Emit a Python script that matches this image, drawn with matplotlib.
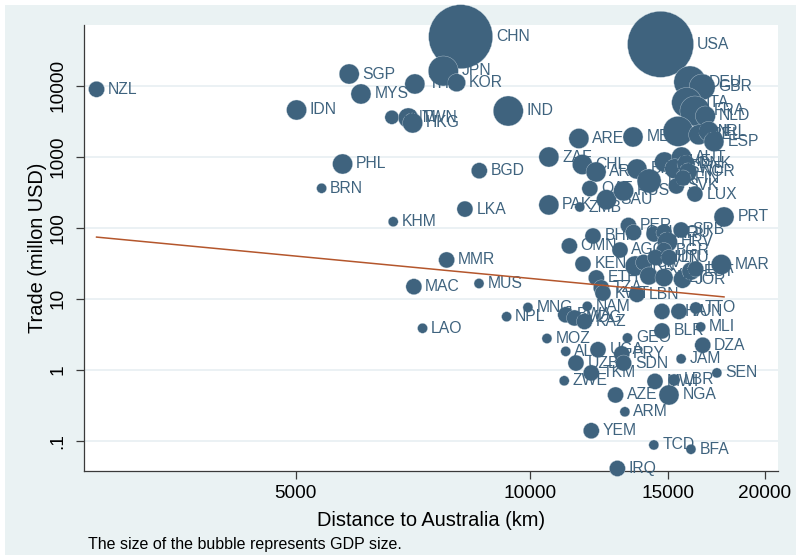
import numpy as np
import matplotlib
matplotlib.use("Agg")
import matplotlib.pyplot as plt
from matplotlib.patches import Rectangle

plt.rcParams['font.family'] = ['Liberation Sans', 'DejaVu Sans']

countries = ["NZL", "IDN", "SGP", "MYS", "PHL", "BRN", "THA", "VNM", "TWN", "HKG",
             "CHN", "JPN", "KOR", "IND", "BGD", "LKA", "KHM", "MMR", "MAC", "MUS",
             "LAO", "NPL", "MNG", "MOZ", "USA", "DEU", "GBR", "ITA", "FRA", "NLD",
             "CAN", "BEL", "IRL", "ESP", "ARE", "MEX", "ZAF", "CHL", "ARG", "BRA",
             "CHE", "AUT", "SWE", "TUR", "SVK", "LUX", "QAT", "SAU", "RUS", "ZMB",
             "PAK", "PRT", "DNK", "NOR", "FIN", "PER", "COL", "BHR", "UKR", "ROU",
             "SRB", "OMN", "AGO", "HRV", "BGR", "KEN", "IRN", "CIV", "HUN", "LTU",
             "CYP", "MLT", "JOR", "EST", "LVA", "MAR", "ETH", "TZA", "KWT", "LBN",
             "NAM", "BWA", "MDG", "KAZ", "GHA", "TUN", "TTO", "BLR", "MLI", "GEO",
             "DZA", "ALB", "UGA", "PRY", "UZB", "SDN", "JAM", "TKM", "ZWE", "MWI",
             "LBR", "SEN", "AZE", "NGA", "ARM", "YEM", "TCD", "BFA", "IRQ"]

distance_km = [2774, 5010, 5853, 6060, 5740, 5395, 7107, 6640, 6970, 7060,
               8137, 7730, 8040, 9366, 8597, 8240, 6666, 7806, 7086, 8590,
               7270, 9320, 9926, 10500, 14690, 16020, 16610, 15870, 16260, 16770,
               15470, 16440, 16940, 17200, 11540, 13540, 10560, 11660, 12140, 13700,
               14860, 15630, 15320, 14200, 15390, 16260, 11920, 12520, 13170, 11570,
               10560, 17720, 15840, 15930, 15700, 13360, 13560, 12030, 14410, 14840,
               15610, 11220, 13030, 14990, 14840, 11680, 13630, 13970, 14470, 15060,
               14190, 14840, 15670, 16070, 16300, 17580, 12150, 12330, 12390, 13700,
               11830, 11100, 11390, 11730, 14750, 15510, 16300, 14750, 16540, 13320,
               16640, 11100, 12210, 13100, 11440, 13170, 15610, 11970, 11050, 14450,
               15290, 17350, 12860, 15060, 13220, 11970, 14400, 16070, 12930]

trade_musd = [8900, 4547, 14610, 7640, 789, 359, 10570, 3589, 3508, 2983,
              48980, 16110, 11020, 4402, 635, 183, 121.5, 35.1, 14.76, 16.37,
              3.83, 5.58, 7.52, 2.75, 38280, 11270, 9587, 5799, 4402, 3743,
              2272, 2034, 2272, 1632, 1804, 1895, 990, 776, 609, 671,
              842, 990, 676, 455, 386.6, 298, 356, 248, 328.8, 195.6,
              209, 141.5, 789, 609, 501, 107.4, 85.6, 76.4, 81.5, 85.6,
              92.8, 55.3, 48.5, 62.9, 47.6, 30.8, 28.9, 32.4, 38.0, 38.0,
              20.9, 19.8, 18.8, 24.5, 26.2, 30.3, 19.6, 14.2, 12.0, 11.5,
              7.82, 5.93, 5.35, 4.77, 6.62, 6.62, 7.40, 3.51, 4.0, 2.80,
              2.21, 1.81, 1.91, 1.67, 1.24, 1.24, 1.42, 0.90, 0.698, 0.684,
              0.716, 0.90, 0.44, 0.44, 0.255, 0.138, 0.087, 0.0757, 0.0406]

gdp = [1280, 2000, 2000, 2000, 2000, 500, 2000, 980, 2000, 2000,
       20480, 4500, 1620, 4500, 1280, 1280, 500, 1280, 1280, 500,
       500, 500, 500, 500, 21780, 5120, 3380, 4500, 4500, 2000,
       4500, 2000, 2000, 2000, 2000, 2000, 2000, 2000, 2000, 2000,
       2000, 2000, 2000, 2880, 1280, 1280, 1280, 2000, 2000, 500,
       2000, 2000, 1620, 1620, 1280, 1280, 1280, 1280, 1280, 1280,
       1280, 1280, 1280, 2000, 1280, 1280, 2000, 1280, 1280, 1280,
       1620, 1620, 1620, 1620, 1280, 2000, 1280, 1280, 1280, 1280,
       500, 1280, 1280, 1280, 1280, 1280, 720, 1280, 500, 500,
       1280, 500, 1280, 1280, 1280, 1280, 500, 1280, 500, 1280,
       720, 500, 1280, 2000, 500, 1280, 500, 500, 1280]

# fitted line (log10 trade = a + b * log10 distance)
fit_intercept = 5.469
fit_slope = -1.046

x_ticks = [5000, 10000, 15000, 20000]
y_ticks = [0.1, 1, 10, 100, 1000, 10000]
y_tick_labels = [".1", "1", "10", "100", "1000", "10000"]

BUBBLE = '#3f637e'
BG = '#eaf2f3'

W, H = 796, 555
fig = plt.figure(figsize=(W / 100, H / 100), dpi=100)
fig.patch.set_facecolor('white')
fig.add_artist(Rectangle((5 / W, 0), 1 - 5 / W, 1 - 5 / H, transform=fig.transFigure,
                         facecolor=BG, edgecolor='none', zorder=-10))

ax = fig.add_axes([84 / W, 1 - 471 / H, (778 - 84) / W, (471 - 25) / H])
ax.set_facecolor('white')
ax.set_xscale('log')
ax.set_yscale('log')
ax.set_xlim(2673, 20785)
ax.set_ylim(0.0374, 71600)

size_scale = 1.44 ** 2 / 20.0
sizes = np.array(gdp) * size_scale
ax.scatter(distance_km, trade_musd, s=sizes, color=BUBBLE, edgecolors='#c9d7e0',
           linewidths=0.25, zorder=3, clip_on=False)

for name, xv, yv, sv in zip(countries, distance_km, trade_musd, sizes):
    r_pt = np.sqrt(sv) / 2
    ax.annotate(name, (xv, yv), xytext=(r_pt + 2.4, 0), textcoords='offset points',
                ha='left', va='center', fontsize=11.3, color=BUBBLE, zorder=4,
                annotation_clip=False)

lx = np.array([min(distance_km), max(distance_km)], dtype=float)
ly = 10 ** (fit_intercept + fit_slope * np.log10(lx))
ax.plot(lx, ly, color='#b4562c', lw=1.1, zorder=5)

ax.set_xticks(x_ticks)
ax.set_xticklabels([str(v) for v in x_ticks])
ax.xaxis.set_minor_locator(matplotlib.ticker.NullLocator())
ax.set_yticks(y_ticks)
ax.set_yticklabels(y_tick_labels, rotation=90, va='center')
ax.yaxis.set_minor_locator(matplotlib.ticker.NullLocator())
ax.tick_params(axis='both', labelsize=13.7, length=5.8, width=0.9, color='#3a3a3a')
ax.tick_params(axis='x', pad=4)
ax.tick_params(axis='y', pad=7)
ax.grid(axis='y', color='#e6eef1', lw=1.1, zorder=0)
ax.set_axisbelow(True)
for side in ['top', 'right']:
    ax.spines[side].set_visible(False)
for side in ['left', 'bottom']:
    ax.spines[side].set_color('#3a3a3a')
    ax.spines[side].set_linewidth(0.9)

ax.set_xlabel("Distance to Australia (km)", fontsize=14.4, labelpad=7)
ax.set_ylabel("Trade (millon USD)", fontsize=14.4)
ax.yaxis.set_label_coords((47 - 84) / (778 - 84), 0.5)

fig.text(88 / W, 1 - 545 / H, "The size of the bubble represents GDP size.",
         fontsize=11.5, ha='left', va='center')

fig.savefig("out.png", dpi=100)
